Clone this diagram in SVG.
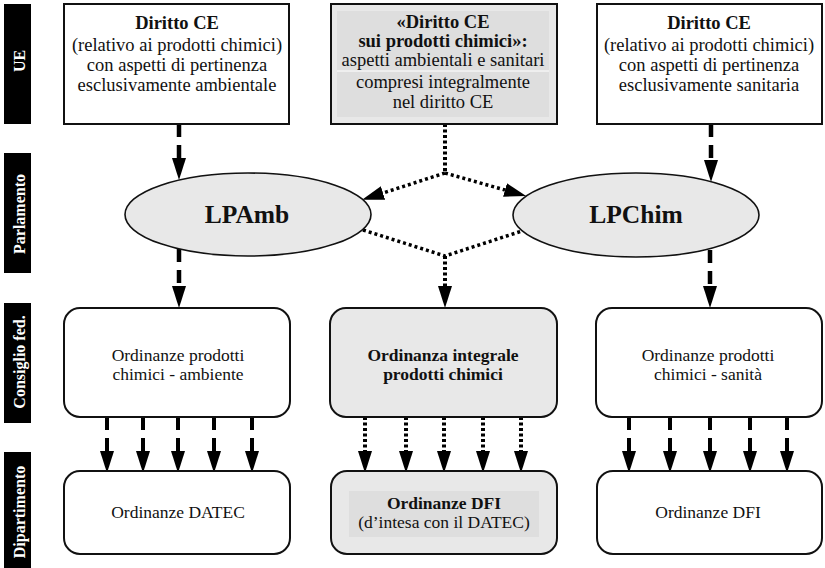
<svg xmlns="http://www.w3.org/2000/svg" width="825" height="568" viewBox="0 0 825 568" font-family="'Liberation Serif', 'DejaVu Serif', serif">
<style>
  text { font-family: 'Liberation Serif', 'DejaVu Serif', serif; font-size: 17.5px; fill: #111; text-anchor: middle; }
  .t { font-size: 18.5px; }
  .b { font-weight: bold; }
  .lane rect { fill: #000; }
  .lane text { fill: #fff; font-weight: bold; font-size: 16px; }
  .box { fill: #fff; stroke: #111; stroke-width: 2; }
  .gbox { fill: #e8e8e8; stroke: #111; stroke-width: 2; }
  .inner { fill: #dedede; }
  .ell { fill: #e8e8e8; stroke: #111; stroke-width: 1.6; }
  .big { font-size: 25.5px; font-weight: bold; }
  .dash { fill: none; stroke: #000; stroke-width: 4.5; stroke-dasharray: 13 8; }
  .fdash { fill: none; stroke: #000; stroke-width: 4; stroke-dasharray: 13 8; }
  .dot { fill: none; stroke: #000; stroke-width: 4; stroke-dasharray: 3 2.5; }
  .ddot { fill: none; stroke: #000; stroke-width: 3.5; stroke-dasharray: 3 3; }
</style>
<defs>
  <marker id="ah" markerUnits="userSpaceOnUse" markerWidth="23" markerHeight="16" viewBox="0 -8 23 16" refX="0" refY="0" orient="auto">
    <path d="M0,-7 L22,0 L0,7 Z" fill="#000"/>
  </marker>
</defs>
<rect width="825" height="568" fill="#fff"/>

<g id="lanes" class="lane">
  <rect x="4" y="4" width="27" height="120"/>
  <text transform="translate(25,61) rotate(-90)">UE</text>
  <rect x="4" y="153" width="27" height="120"/>
  <text transform="translate(25,214) rotate(-90)">Parlamento</text>
  <rect x="4" y="303" width="27" height="120"/>
  <text transform="translate(25,362) rotate(-90)">Consiglio fed.</text>
  <rect x="4" y="452" width="27" height="120"/>
  <text transform="translate(25,512) rotate(-90)">Dipartimento</text>
</g>

<g id="connectors">
  <path class="dash" d="M179,124 V158" marker-end="url(#ah)"/>
  <path class="dash" d="M711,124 V160" marker-end="url(#ah)"/>
  <path class="dot" d="M445,124 V173"/>
  <path class="ddot" d="M445,173 L383,193" marker-end="url(#ah)"/>
  <path class="ddot" d="M445,173 L505,190" marker-end="url(#ah)"/>
  <path class="dash" d="M179,249 V286" marker-end="url(#ah)"/>
  <path class="dash" d="M710,250 V286" marker-end="url(#ah)"/>
  <path class="ddot" d="M363,230 L445,256 L522,231"/>
  <path class="dot" d="M445,256 V286" marker-end="url(#ah)"/>
  <path class="fdash" d="M107,417 V451" marker-end="url(#ah)"/>
  <path class="fdash" d="M143,417 V451" marker-end="url(#ah)"/>
  <path class="fdash" d="M178,417 V451" marker-end="url(#ah)"/>
  <path class="fdash" d="M214,417 V451" marker-end="url(#ah)"/>
  <path class="fdash" d="M252,417 V451" marker-end="url(#ah)"/>
  <path class="dot" d="M365,417 V451" marker-end="url(#ah)"/>
  <path class="dot" d="M406,417 V451" marker-end="url(#ah)"/>
  <path class="dot" d="M444,417 V451" marker-end="url(#ah)"/>
  <path class="dot" d="M483,417 V451" marker-end="url(#ah)"/>
  <path class="dot" d="M521,417 V451" marker-end="url(#ah)"/>
  <path class="fdash" d="M629,417 V451" marker-end="url(#ah)"/>
  <path class="fdash" d="M670,417 V451" marker-end="url(#ah)"/>
  <path class="fdash" d="M710,417 V451" marker-end="url(#ah)"/>
  <path class="fdash" d="M750,417 V451" marker-end="url(#ah)"/>
  <path class="fdash" d="M787,417 V451" marker-end="url(#ah)"/>
</g>

<g id="ue-ambiente">
  <rect class="box" x="64" y="4" width="225" height="120"/>
  <text class="t b" x="177" y="29">Diritto CE</text>
  <text class="t" x="177" y="51">(relativo ai prodotti chimici)</text>
  <text class="t" x="177" y="71">con aspetti di pertinenza</text>
  <text class="t" x="177" y="91">esclusivamente ambientale</text>
</g>
<g id="ue-integrale">
  <rect class="gbox" x="331" y="4" width="226" height="120"/>
  <rect class="inner" x="337" y="11" width="212" height="106"/>
  <line x1="337" y1="71" x2="549" y2="71" stroke="#fff" stroke-width="1"/>
  <text class="t b" x="443" y="28">«Diritto CE</text>
  <text class="t b" x="443" y="47">sui prodotti chimici»:</text>
  <text class="t" x="443" y="66">aspetti ambientali e sanitari</text>
  <text class="t" x="443" y="88">compresi integralmente</text>
  <text class="t" x="443" y="108">nel diritto CE</text>
</g>
<g id="ue-sanita">
  <rect class="box" x="597" y="4" width="225" height="120"/>
  <text class="t b" x="709" y="29">Diritto CE</text>
  <text class="t" x="709" y="51">(relativo ai prodotti chimici)</text>
  <text class="t" x="709" y="71">con aspetti di pertinenza</text>
  <text class="t" x="709" y="91">esclusivamente sanitaria</text>
</g>

<g id="lpamb">
  <ellipse class="ell" cx="248" cy="214.5" rx="123" ry="41.5"/>
  <text class="big" x="247" y="223">LPAmb</text>
</g>
<g id="lpchim">
  <ellipse class="ell" cx="636" cy="215" rx="123" ry="42"/>
  <text class="big" x="636" y="223">LPChim</text>
</g>

<g id="ord-ambiente">
  <rect class="box" x="64" y="308" width="226" height="109" rx="16"/>
  <text x="178" y="361">Ordinanze prodotti</text>
  <text x="178" y="380">chimici - ambiente</text>
</g>
<g id="ord-integrale">
  <rect class="gbox" x="330" y="308" width="227" height="109" rx="16"/>
  <text class="b" x="443" y="361">Ordinanza integrale</text>
  <text class="b" x="443" y="380">prodotti chimici</text>
</g>
<g id="ord-sanita">
  <rect class="box" x="596" y="308" width="226" height="109" rx="16"/>
  <text x="708" y="361">Ordinanze prodotti</text>
  <text x="708" y="380">chimici - sanità</text>
</g>

<g id="ord-datec">
  <rect class="box" x="64" y="471" width="226" height="83" rx="16"/>
  <text x="178" y="518">Ordinanze DATEC</text>
</g>
<g id="ord-dfi-datec">
  <rect class="gbox" x="331" y="471" width="226" height="83" rx="16"/>
  <rect class="inner" x="349" y="491" width="190" height="46"/>
  <text class="b" x="444" y="509">Ordinanze DFI</text>
  <text x="444" y="528">(d’intesa con il DATEC)</text>
</g>
<g id="ord-dfi">
  <rect class="box" x="597" y="471" width="225" height="83" rx="16"/>
  <text x="708" y="518">Ordinanze DFI</text>
</g>
</svg>
